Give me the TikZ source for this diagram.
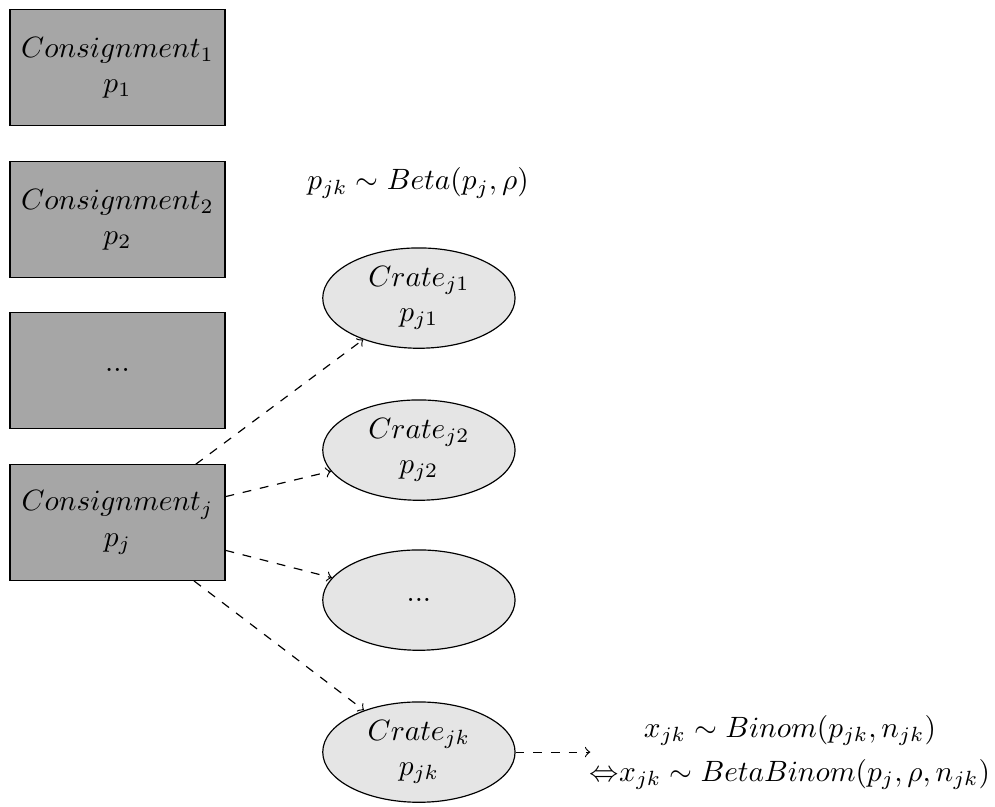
\documentclass[tikz,border=0pt]{standalone}
\usetikzlibrary{shapes.geometric}
\begin{document}
\begin{tikzpicture}[cons/.style={rectangle, draw, fill=gray!70, minimum width=2.57cm, minimum height=1.38cm, align=center},
crate/.style={ellipse, draw, fill=gray!20, minimum width=2.3cm, minimum height=1.2cm, inner sep=0pt, align=center},
link/.style={->, dashed}]
\useasboundingbox (0,0) rectangle (11.9,-9.64);
\node[cons] (cons1) at (1.405,-0.807){$Consignment_1$\\$p_1$};
\node[cons] (cons2) at (1.405,-2.626){$Consignment_2$\\$p_2$};
\node[cons] (cons3) at (1.405,-4.43){$...$};
\node[cons] (consj) at (1.405,-6.25){$Consignment_j$\\$p_j$};
\node (beta) at (5.0,-2.19){$p_{jk} \sim Beta(p_j, \rho)$};
\node[crate] (crate1) at (5.01,-3.565){$Crate_{j1}$\\$p_{j1}$};
\node[crate] (crate2) at (5.01,-5.383){$Crate_{j2}$\\$p_{j2}$};
\node[crate] (crate3) at (5.01,-7.177){$...$};
\node[crate] (cratek) at (5.01,-8.995){$Crate_{jk}$\\$p_{jk}$};
\coordinate (xend) at (7.06,-8.995);
\node[align=center, anchor=west] (xdist) at (6.93,-9.0){$x_{jk} \sim Binom(p_{jk}, n_{jk})$\\[3pt]${\Leftrightarrow}x_{jk} \sim BetaBinom(p_j, \rho, n_{jk})$};
\draw[link](consj) -- (crate1);
\draw[link](consj) -- (crate2);
\draw[link](consj) -- (crate3);
\draw[link](consj) -- (cratek);
\draw[link](cratek) -- (xend);
\end{tikzpicture}
\end{document}
